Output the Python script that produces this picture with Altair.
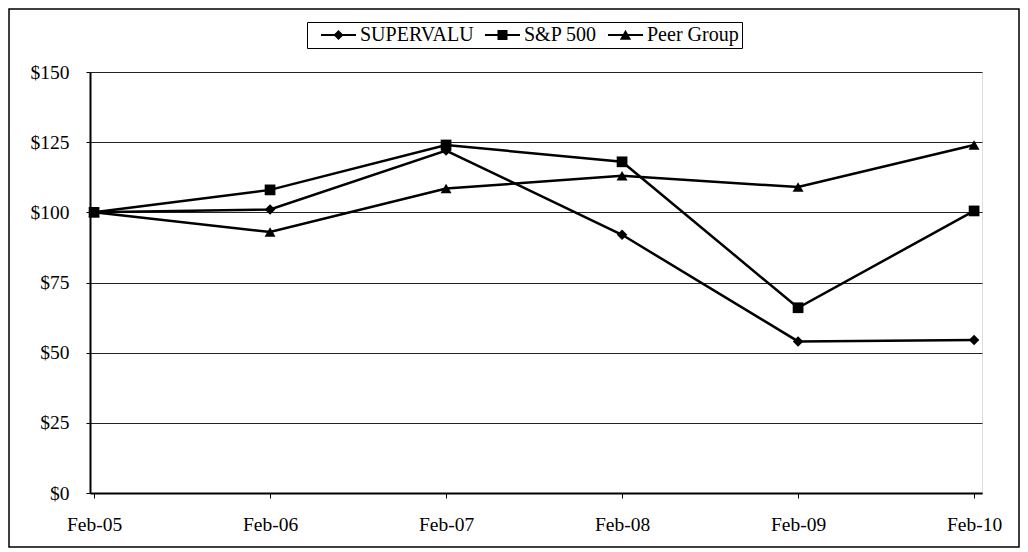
import altair as alt
import pandas as pd

dates = ["Feb-05", "Feb-06", "Feb-07", "Feb-08", "Feb-09", "Feb-10"]
series = ["SUPERVALU", "S&P 500", "Peer Group"]
supervalu = [100, 101, 122, 92, 54, 54.5]
sp500 = [100, 108, 124, 118, 66, 100.5]
peer = [100, 93, 108.5, 113, 109, 124]
y_ticks = [0, 25, 50, 75, 100, 125, 150]

rows = []
for name, vals in zip(series, [supervalu, sp500, peer]):
    for i, (d, v) in enumerate(zip(dates, vals)):
        rows.append({"series": name, "idx": i, "date": d, "value": v})
df = pd.DataFrame(rows)

FONT = "'Liberation Serif', 'Times New Roman', 'DejaVu Serif', serif"
label_expr = "[" + ",".join("'" + d + "'" for d in dates) + "][datum.value]"

x = alt.X(
    "idx:Q",
    scale=alt.Scale(domain=[-0.023, 5.045], nice=False, zero=False),
    axis=alt.Axis(
        values=list(range(len(dates))), labelExpr=label_expr, title=None, grid=False,
        tickSize=5, tickColor="black", tickWidth=1, labelPadding=17,
        domainColor="black", domainWidth=2, labelFont=FONT, labelFontSize=19.5,
        labelColor="black", labelFlush=False,
    ),
)
y = alt.Y(
    "value:Q",
    scale=alt.Scale(domain=[0, 150], nice=False),
    axis=alt.Axis(
        values=y_ticks, labelExpr="'$' + datum.value", title=None, grid=True,
        gridColor="#222222", gridWidth=1, tickSize=4, tickColor="black",
        labelPadding=17, domainColor="black", domainWidth=2, labelFont=FONT,
        labelFontSize=19.5, labelColor="black",
    ),
)

base = alt.Chart(df)

lines = base.mark_line(color="black", strokeWidth=2.5).encode(x=x, y=y, detail="series:N")

points = base.mark_point(filled=True, color="black", opacity=1).encode(
    x=x, y=y,
    shape=alt.Shape("series:N", scale=alt.Scale(domain=series, range=["diamond", "square", "triangle-up"]), legend=None),
    size=alt.Size("series:N", scale=alt.Scale(domain=series, range=[110, 120, 115]), legend=None),
)

bar = "M-2.06,-0.13H2.06V0.13H-2.06Z"
legend_paths = [
    bar + "M0,-0.59L0.59,0L0,0.59L-0.59,0Z",
    bar + "M-0.59,-0.59H0.59V0.59H-0.59Z",
    bar + "M0,-0.62L0.66,0.55L-0.66,0.55Z",
]

legend_layer = base.transform_filter("false").mark_point(filled=True, color="black", opacity=1).encode(
    x=x, y=y,
    shape=alt.Shape(
        "series:N",
        scale=alt.Scale(domain=series, range=legend_paths),
        legend=alt.Legend(
            title=None, orient="none", legendX=217, legendY=-50, direction="horizontal",
            strokeColor="black", fillColor="white", padding=3, symbolSize=289,
            symbolFillColor="black", symbolStrokeWidth=0, symbolOffset=18.5,
            labelOffset=11.5, columnPadding=-5, labelFont=FONT, labelFontSize=20,
            labelColor="black",
        ),
    ),
)

border = alt.Chart(pd.DataFrame({"a": [0]})).mark_rect(
    fillOpacity=0, stroke="black", strokeWidth=1.5
).encode(x=alt.value(-81), x2=alt.value(929), y=alt.value(-63), y2=alt.value(475))

chart = alt.layer(lines, points, legend_layer, border).resolve_scale(
    shape="independent"
).properties(
    width=892, height=421,
    padding={"left": 82, "top": 64, "right": 38, "bottom": 55},
    autosize=alt.AutoSizeParams(type="none"),
).configure_view(stroke="black", strokeWidth=1.5).configure(background="white", font=FONT)

chart.save("out.html", embed_options={"renderer": "svg", "actions": False})
